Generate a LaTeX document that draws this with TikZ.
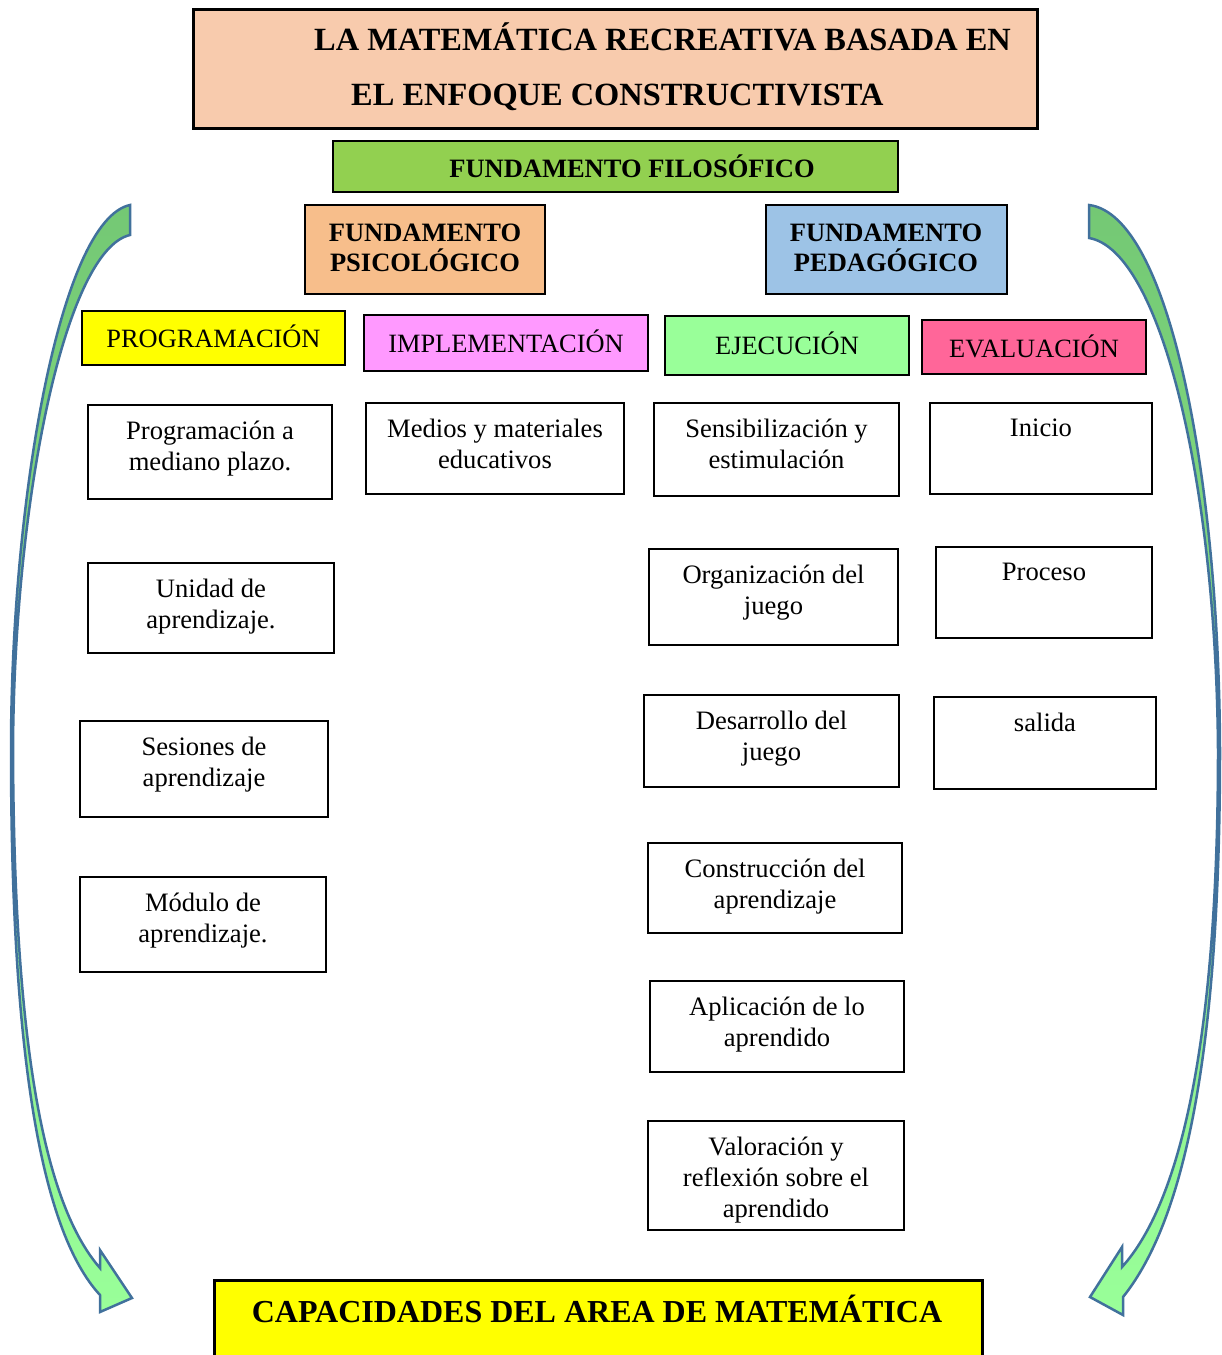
\documentclass[tikz,border=0pt]{standalone}
\usepackage{fontspec}
\setmainfont{Liberation Serif}
\definecolor{titlefill}{HTML}{F8CBAD}
\definecolor{filofill}{HTML}{92D050}
\definecolor{psicofill}{HTML}{F7BE8B}
\definecolor{pedafill}{HTML}{9DC3E6}
\definecolor{progfill}{HTML}{FFFF00}
\definecolor{implfill}{HTML}{FF99FF}
\definecolor{ejecfill}{HTML}{99FF99}
\definecolor{evalfill}{HTML}{FF6699}
\definecolor{capfill}{HTML}{FFFF00}
\definecolor{arrowline}{HTML}{41719C}
\definecolor{arrowtop}{HTML}{74C874}
\definecolor{arrowbot}{HTML}{99FF99}
\newcommand\mybox[7]{\node[cbox,#6,minimum width={#4-#2},minimum height={#5-#3}] (#1) at ({(#2+#4)/2},{(#3+#5)/2}) {#7};}
\begin{document}
\begin{tikzpicture}[x=1pt,y=-1pt,
  every node/.style={inner sep=0pt},
  cbox/.style={draw=black, line width=2.4pt, rectangle, align=center},
  body/.style={font=\fontsize{26.6}{31}\selectfont, align=center, anchor=north},
  hb/.style={font=\bfseries\fontsize{26.5}{30}\selectfont},
  hr/.style={font=\fontsize{26.4}{30}\selectfont},
  bigb/.style={font=\bfseries\fontsize{32.4}{36}\selectfont},
  arrowshape/.style={draw=arrowline, line width=2.5pt, line join=miter, top color=arrowtop, bottom color=arrowbot}
]
\useasboundingbox (0,0) rectangle (1222,1355);

% curved arrows
\path[arrowshape] (130,205) .. controls (60,220) and (11,500) .. (11,750)
  .. controls (11,1050) and (40,1230) .. (100,1295) -- (100,1312) -- (132,1298) -- (100,1250) -- (100,1268)
  .. controls (45,1205) and (14,1050) .. (13,750) .. controls (14,500) and (65,250) .. (130,235) -- cycle;
\path[arrowshape] (1089,205) .. controls (1170,215) and (1219,480) .. (1220,750)
  .. controls (1220,1050) and (1185,1220) .. (1123,1297) -- (1123,1315) -- (1090,1297) -- (1122,1247) -- (1122,1267)
  .. controls (1178,1205) and (1218,1050) .. (1218,750) .. controls (1216,480) and (1160,250) .. (1089,238) -- cycle;

% title
\mybox{title}{193}{9}{1037}{128}{fill=titlefill,line width=3pt}{}
\node[bigb, anchor=base west] (title1) at (314,50) {LA MATEMÁTICA RECREATIVA BASADA EN};
\node[bigb, anchor=base west] (title2) at (351,105) {EL ENFOQUE CONSTRUCTIVISTA};

% fundamentos
\mybox{filo}{333}{141}{898}{192}{fill=filofill}{}
\node[hb, anchor=base] (filot) at (632,177) {FUNDAMENTO FILOSÓFICO};
\mybox{psico}{305}{205}{545}{294}{fill=psicofill}{}
\node[hb, align=center, anchor=base] (psicot) at (425,271) {FUNDAMENTO\\PSICOLÓGICO};
\mybox{peda}{766}{205}{1007}{294}{fill=pedafill}{}
\node[hb, align=center, anchor=base] (pedat) at (886,271) {FUNDAMENTO\\PEDAGÓGICO};

% categories
\mybox{prog}{82}{311}{345}{365}{fill=progfill,hr}{\raisebox{3pt}{PROGRAMACIÓN}}
\mybox{impl}{364}{315}{648}{371}{fill=implfill,hr}{\raisebox{3pt}{IMPLEMENTACIÓN}}
\mybox{ejec}{665}{316}{909}{375}{fill=ejecfill,hr}{\raisebox{4pt}{EJECUCIÓN}}
\mybox{eval}{922}{320}{1146}{374}{fill=evalfill,hr}{\raisebox{2pt}{EVALUACIÓN}}

% column 1
\mybox{p1}{88}{405}{332}{499}{fill=white}{}
\node[body] (p1t) at ([yshift=-17pt]p1.north) {Programación a\\mediano plazo.};
\mybox{p2}{88}{563}{334}{653}{fill=white}{}
\node[body] (p2t) at ([yshift=-17pt]p2.north) {Unidad de\\aprendizaje.};
\mybox{p3}{80}{721}{328}{817}{fill=white}{}
\node[body] (p3t) at ([yshift=-17pt]p3.north) {Sesiones de\\aprendizaje};
\mybox{p4}{80}{877}{326}{972}{fill=white}{}
\node[body] (p4t) at ([yshift=-17pt]p4.north) {Módulo de\\aprendizaje.};

% column 2
\mybox{i1}{366}{403}{624}{494}{fill=white}{}
\node[body] (i1t) at ([yshift=-17pt]i1.north) {Medios y materiales\\educativos};

% column 3
\mybox{e1}{654}{403}{899}{496}{fill=white}{}
\node[body] (e1t) at ([yshift=-17pt]e1.north) {Sensibilización y\\estimulación};
\mybox{e2}{649}{549}{898}{645}{fill=white}{}
\node[body] (e2t) at ([yshift=-17pt]e2.north) {Organización del\\juego};
\mybox{e3}{644}{695}{899}{787}{fill=white}{}
\node[body] (e3t) at ([yshift=-17pt]e3.north) {Desarrollo del\\juego};
\mybox{e4}{648}{843}{902}{933}{fill=white}{}
\node[body] (e4t) at ([yshift=-17pt]e4.north) {Construcción del\\aprendizaje};
\mybox{e5}{650}{981}{904}{1072}{fill=white}{}
\node[body] (e5t) at ([yshift=-17pt]e5.north) {Aplicación de lo\\aprendido};
\mybox{e6}{648}{1121}{904}{1230}{fill=white}{}
\node[body] (e6t) at ([yshift=-17pt]e6.north) {Valoración y\\reflexión sobre el\\aprendido};

% column 4
\mybox{v1}{930}{403}{1152}{494}{fill=white}{}
\node[body] (v1t) at ([yshift=-17pt]v1.north) {Inicio};
\mybox{v2}{936}{547}{1152}{638}{fill=white}{}
\node[body] (v2t) at ([yshift=-17pt]v2.north) {Proceso};
\mybox{v3}{934}{697}{1156}{789}{fill=white}{}
\node[body] (v3t) at ([yshift=-17pt]v3.north) {salida};

% bottom
\mybox{cap}{214}{1280}{982}{1366}{fill=capfill,line width=3pt}{}
\node[font=\bfseries\fontsize{32}{36}\selectfont, anchor=base] (capt) at (597,1322) {CAPACIDADES DEL AREA DE MATEMÁTICA};
\end{tikzpicture}
\end{document}
